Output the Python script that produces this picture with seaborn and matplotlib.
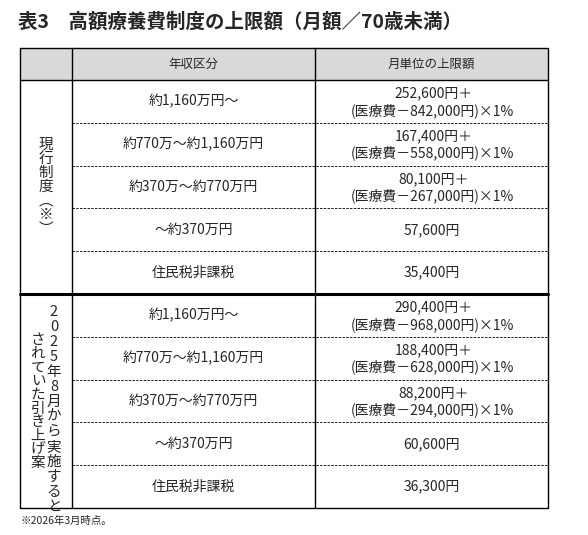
import matplotlib
matplotlib.use("Agg")
import matplotlib.pyplot as plt
import seaborn as sns

sns.set_style("white")
plt.rcParams['font.family'] = ['Noto Sans CJK JP', 'DejaVu Sans']

title = "表3　高額療養費制度の上限額（月額／70歳未満）"
headers = ["年収区分", "月単位の上限額"]
income = ["約1,160万円～", "約770万～約1,160万円", "約370万～約770万円", "～約370万円", "住民税非課税"]
current_base = ["252,600円＋", "167,400円＋", "80,100円＋", "57,600円", "35,400円"]
current_extra = ["(医療費－842,000円)×1%", "(医療費－558,000円)×1%", "(医療費－267,000円)×1%", None, None]
plan_base = ["290,400円＋", "188,400円＋", "88,200円＋", "60,600円", "36,300円"]
plan_extra = ["(医療費－968,000円)×1%", "(医療費－628,000円)×1%", "(医療費－294,000円)×1%", None, None]
group_labels = [["現行制度︵※︶"], ["2025年8月から実施すると", "されていた引き上げ案"]]
footnote = "※2026年3月時点。"

W, H = 588, 535
fig = plt.figure(figsize=(W/100, H/100), dpi=100)
ax = fig.add_axes([0, 0, 1, 1])
ax.set_xlim(0, W); ax.set_ylim(H, 0); ax.axis("off")

L, C1, C2, R = 20, 72, 315, 548
top, hdr = 48, 80
rowh = 42.8
g2 = hdr + 5*rowh
bottom = g2 + 5*rowh

ax.add_patch(plt.Rectangle((L, top), R-L, hdr-top, facecolor="#d9d9d9", edgecolor="none"))
ax.text(L-2, 22, title, fontsize=14, fontweight="bold", va="center", ha="left")
ax.text((C1+C2)/2, (top+hdr)/2, headers[0], fontsize=9, ha="center", va="center")
ax.text((C2+R)/2, (top+hdr)/2, headers[1], fontsize=9, ha="center", va="center")

lw = 1.0
ax.plot([L, R, R, L, L], [top, top, bottom, bottom, top], color="black", lw=lw)
ax.plot([L, R], [hdr, hdr], color="black", lw=lw)
ax.plot([L, R], [g2, g2], color="black", lw=2.2)
ax.plot([C1, C1], [top, bottom], color="black", lw=lw)
ax.plot([C2, C2], [top, bottom], color="black", lw=lw)

fs = 10
for g, (bases, extras) in enumerate([(current_base, current_extra), (plan_base, plan_extra)]):
    y0 = hdr + g*5*rowh
    for i in range(5):
        ya = y0 + i*rowh
        if i > 0:
            ax.plot([C1, R], [ya, ya], color="black", lw=0.6, ls=(0, (3, 1.5)))
        yc = ya + rowh/2
        ax.text((C1+C2)/2, yc, income[i], fontsize=fs, ha="center", va="center")
        if extras[i] is None:
            ax.text((C2+R)/2, yc, bases[i], fontsize=fs, ha="center", va="center")
        else:
            ax.text((C2+R)/2 + 2, yc-8, bases[i], fontsize=fs, ha="center", va="center")
            ax.text((C2+R)/2 + 1, yc+9, extras[i], fontsize=fs, ha="center", va="center")
    cols = group_labels[g]
    if len(cols) == 1:
        s = cols[0]
        step = 14
        ystart = y0 + 5*rowh/2 - (len(s)-1)*step/2
        for k, ch in enumerate(s):
            ax.text((L+C1)/2, ystart + k*step, ch, fontsize=10.5, ha="center", va="center")
    else:
        for x, s, ystart, step in zip([54, 38], cols, [y0+18, y0+46], [15, 13.7]):
            for k, ch in enumerate(s):
                ax.text(x, ystart + k*step, ch, fontsize=10.5, ha="center", va="center")

ax.text(L, bottom+13, footnote, fontsize=7.5, ha="left", va="center")
fig.savefig("out.png", dpi=100, facecolor="white")
